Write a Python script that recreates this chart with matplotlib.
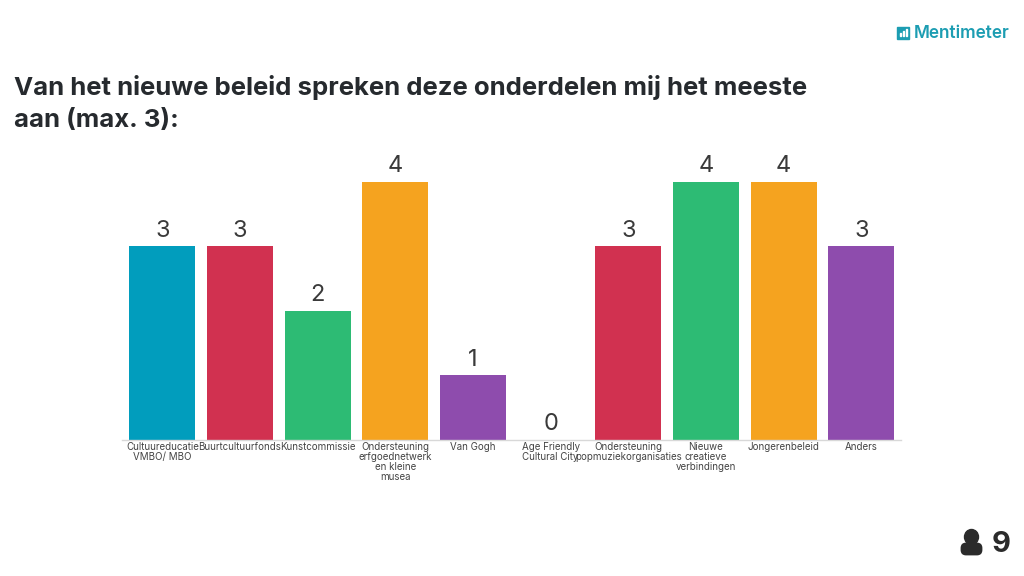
import matplotlib
matplotlib.use('Agg')
import matplotlib.pyplot as plt
from matplotlib.patches import Ellipse, FancyBboxPatch, Rectangle

categories = ['Cultuureducatie\nVMBO/ MBO', 'Buurtcultuurfonds', 'Kunstcommissie',
              'Ondersteuning\nerfgoednetwerk\nen kleine\nmusea', 'Van Gogh',
              'Age Friendly\nCultural City', 'Ondersteuning\npopmuziekorganisaties',
              'Nieuwe\ncreatieve\nverbindingen', 'Jongerenbeleid', 'Anders']
values = [3, 3, 2, 4, 1, 0, 3, 4, 4, 3]
colors = ['#019DBD', '#D13150', '#2DBB74', '#F5A31F', '#8E4CAD',
          '#019DBD', '#D13150', '#2DBB74', '#F5A31F', '#8E4CAD']
title = 'Van het nieuwe beleid spreken deze onderdelen mij het meeste\naan (max. 3):'

plt.rcParams['font.family'] = ['Inter', 'DejaVu Sans']

fig = plt.figure(figsize=(10.24, 5.76), dpi=100, facecolor='white')
W, H = 1024, 576

# plot area in pixels: x 122-901, baseline y=440
ax = fig.add_axes([122 / W, (H - 440) / H, (901 - 122) / W, 300 / H])
bars = ax.bar(range(len(values)), values, width=0.85, color=colors)
ax.set_xlim(-0.52, 9.511)
ax.set_ylim(0, 4.65)
ax.bar_label(bars, padding=3.5, fontsize=17, color='#3a3a3a')

ax.set_xticks(range(len(values)))
ax.set_xticklabels(categories, fontsize=7, color='#444444', linespacing=0.98)
ax.tick_params(axis='x', length=0, pad=1.5)
ax.set_yticks([])
for s in ['top', 'left', 'right']:
    ax.spines[s].set_visible(False)
ax.spines['bottom'].set_color('#d8d8d8')
ax.spines['bottom'].set_linewidth(1)

fig.text(14 / W, 1 - 75 / H, title, fontsize=18.5, fontweight='bold', color='#262a2e',
         va='top', ha='left', linespacing=1.48)

# Mentimeter logo
bg = fig.add_axes([0, 0, 1, 1], zorder=5)
bg.set_xlim(0, W)
bg.set_ylim(H, 0)
bg.axis('off')
bg.patch.set_alpha(0)
bg.add_patch(Rectangle((897, 27), 12, 12, color='#1C9DB2'))
for x, top in [(900, 33), (903, 31), (906, 29)]:
    bg.add_patch(Rectangle((x, top), 1.4, 36 - top, color='white'))
bg.text(914, 33, 'Mentimeter', fontsize=12.4, fontweight='semibold', color='#1C9DB2', va='center', ha='left')

# participants icon and count
bg.add_patch(Ellipse((971.5, 537), 14, 15, color='#2b2b2b'))
bg.add_patch(FancyBboxPatch((962, 544), 19, 10, boxstyle='round,pad=0,rounding_size=4',
                            mutation_aspect=1, lw=2, ec='#2b2b2b', fc='#2b2b2b'))
bg.text(1001, 544, '9', fontsize=21, fontweight='bold', color='#2b2b2b', va='center', ha='center')

fig.savefig('out.png', dpi=100)
